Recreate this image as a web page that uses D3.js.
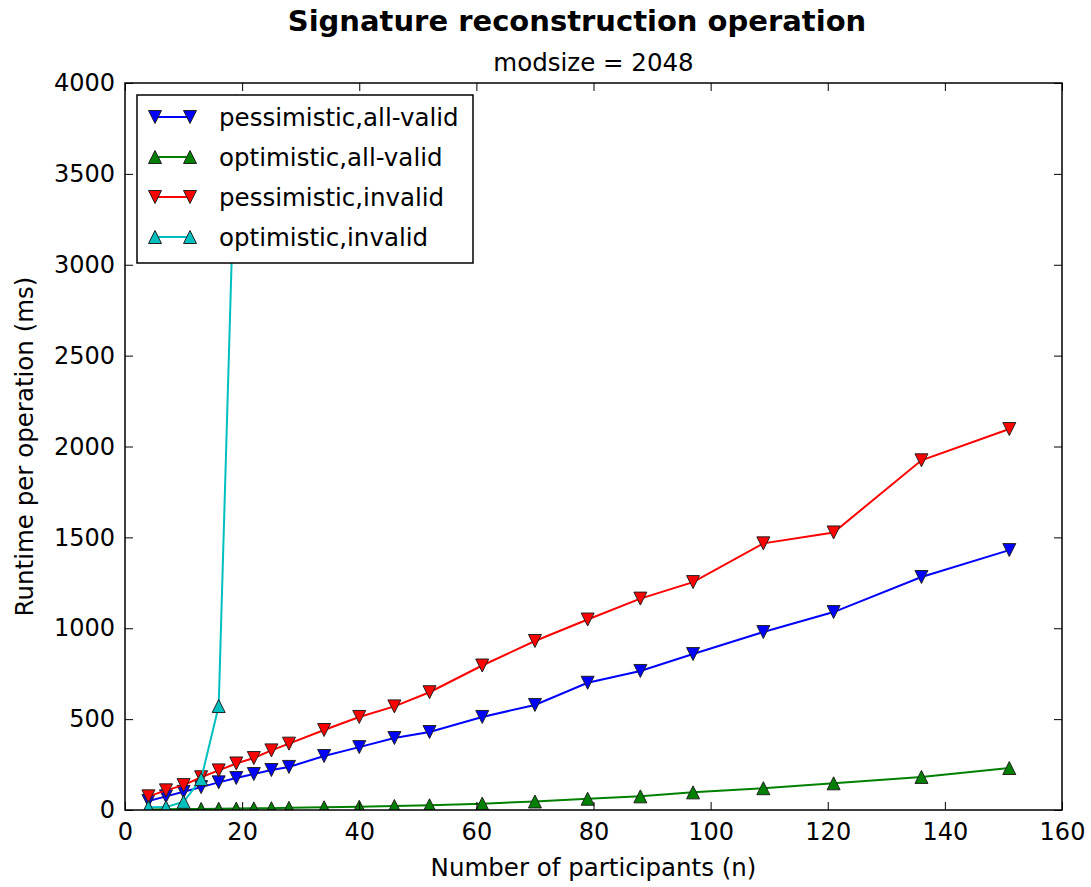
<!DOCTYPE html>
<html>
<head>
<meta charset="utf-8">
<script src="https://cdn.jsdelivr.net/npm/d3@7"></script>
<style>
  body { margin: 0; background: #fff; }
  text { font-family: "DejaVu Sans", sans-serif; fill: #000; }
</style>
</head>
<body>
<svg id="chart"></svg>
<script>
// participants (x)
var participants = [4, 7, 10, 13, 16, 19, 22, 25, 28, 34, 40, 46, 52, 61, 70, 79, 88, 97, 109, 121, 136, 151];

// runtimes, ms
var pessimisticValid = [50, 75, 100, 126, 152, 176, 198, 220, 237, 297, 346, 396, 429, 512, 578, 700, 765, 858, 979, 1089, 1282, 1430];
var optimisticValid = [3, 4, 5, 6, 7, 8, 9, 10, 12, 15, 18, 22, 26, 35, 47, 62, 75, 97, 120, 147, 182, 231];
var pessimisticInvalid = [75, 108, 137, 180, 218, 256, 286, 328, 365, 440, 512, 570, 648, 795, 930, 1048, 1163, 1254, 1467, 1527, 1924, 2096];
// the optimistic/invalid run blows up after n = 16
var optimisticInvalidN = [4, 7, 10, 13, 16, 19];
var optimisticInvalid = [15, 16, 45, 170, 572, 3900];

var xTicks = [0, 20, 40, 60, 80, 100, 120, 140, 160];
var yTicks = [0, 500, 1000, 1500, 2000, 2500, 3000, 3500, 4000];

var width = 1091, height = 887;
var margin = {left: 125, right: 29, top: 83, bottom: 77};

var svg = d3.select("#chart").attr("width", width).attr("height", height);

var x = d3.scaleLinear().domain([0, 160]).range([margin.left, width - margin.right]);
var y = d3.scaleLinear().domain([0, 4000]).range([height - margin.bottom, margin.top]);

var series = [
  {name: "pessimistic,all-valid", color: "#0000ff", down: true, xs: participants, ys: pessimisticValid},
  {name: "optimistic,all-valid", color: "#008000", down: false, xs: participants, ys: optimisticValid},
  {name: "pessimistic,invalid", color: "#ff0000", down: true, xs: participants, ys: pessimisticInvalid},
  {name: "optimistic,invalid", color: "#00bfbf", down: false, xs: optimisticInvalidN, ys: optimisticInvalid}
];

function tri(down) {
  var s = 6.5;
  return down ? "M0," + s + "L" + (-s) + "," + (-s) + "L" + s + "," + (-s) + "Z"
              : "M0," + (-s) + "L" + (-s) + "," + s + "L" + s + "," + s + "Z";
}

svg.append("clipPath").attr("id", "clip")
  .append("rect")
  .attr("x", x(0)).attr("y", y(4000))
  .attr("width", x(160) - x(0)).attr("height", y(0) - y(4000));

var plot = svg.append("g").attr("clip-path", "url(#clip)");

var line = d3.line().x(function(d) { return x(d[0]); }).y(function(d) { return y(d[1]); });

series.forEach(function(s) {
  var pts = s.xs.map(function(v, i) { return [v, s.ys[i]]; });
  var g = plot.append("g");
  g.append("path").datum(pts)
    .attr("d", line)
    .attr("fill", "none")
    .attr("stroke", s.color)
    .attr("stroke-width", 2);
  g.selectAll("path.mk").data(pts).enter().append("path")
    .attr("class", "mk")
    .attr("d", tri(s.down))
    .attr("transform", function(d) { return "translate(" + x(d[0]) + "," + y(d[1]) + ")"; })
    .attr("fill", s.color)
    .attr("stroke", "#222")
    .attr("stroke-width", 1);
});

// axes, ticks inward on all four sides
var tickLen = 8;
var fmt = d3.format("d");
var xb = svg.append("g").attr("transform", "translate(0," + y(0) + ")")
  .call(d3.axisBottom(x).tickValues(xTicks).tickFormat(fmt).tickSizeInner(-tickLen).tickSizeOuter(0).tickPadding(13));
var xt = svg.append("g").attr("transform", "translate(0," + y(4000) + ")")
  .call(d3.axisTop(x).tickValues(xTicks).tickSizeInner(-tickLen).tickSizeOuter(0).tickFormat(""));
var yl = svg.append("g").attr("transform", "translate(" + x(0) + ",0)")
  .call(d3.axisLeft(y).tickValues(yTicks).tickFormat(fmt).tickSizeInner(-tickLen).tickSizeOuter(0).tickPadding(10));
var yr = svg.append("g").attr("transform", "translate(" + x(160) + ",0)")
  .call(d3.axisRight(y).tickValues(yTicks).tickSizeInner(-tickLen).tickSizeOuter(0).tickFormat(""));

[xb, xt, yl, yr].forEach(function(a) {
  a.select(".domain").remove();
  a.selectAll(".tick line").attr("stroke", "#000").attr("stroke-width", 1);
  a.selectAll("text").style("font-size", "24px").attr("fill", "#000");
});

svg.append("rect")
  .attr("x", x(0)).attr("y", y(4000))
  .attr("width", x(160) - x(0)).attr("height", y(0) - y(4000))
  .attr("fill", "none").attr("stroke", "#000").attr("stroke-width", 1.5);

// legend
var lg = svg.append("g").attr("transform", "translate(137,95)");
lg.append("rect").attr("width", 336).attr("height", 168)
  .attr("fill", "#fff").attr("stroke", "#000").attr("stroke-width", 1.5);
series.forEach(function(s, i) {
  var cy = 22 + i * 40;
  lg.append("line").attr("x1", 18).attr("x2", 53).attr("y1", cy).attr("y2", cy)
    .attr("stroke", s.color).attr("stroke-width", 2);
  [18, 53].forEach(function(cx) {
    lg.append("path").attr("d", tri(s.down))
      .attr("transform", "translate(" + cx + "," + cy + ")")
      .attr("fill", s.color).attr("stroke", "#222").attr("stroke-width", 1);
  });
  lg.append("text").attr("x", 82).attr("y", cy).attr("dy", "0.35em")
    .style("font-size", "24.5px").text(s.name);
});

// titles and labels
svg.append("text").attr("x", 577).attr("y", 31).attr("text-anchor", "middle")
  .style("font-size", "29px").style("font-weight", "bold")
  .text("Signature reconstruction operation");
svg.append("text").attr("x", x(80)).attr("y", 71).attr("text-anchor", "middle")
  .style("font-size", "24.5px").text("modsize = 2048");
svg.append("text").attr("x", x(80)).attr("y", 876).attr("text-anchor", "middle")
  .style("font-size", "24.5px").text("Number of participants (n)");
svg.append("text").attr("transform", "translate(33," + y(2000) + ") rotate(-90)")
  .attr("text-anchor", "middle").style("font-size", "24.5px")
  .text("Runtime per operation (ms)");
</script>
</body>
</html>
